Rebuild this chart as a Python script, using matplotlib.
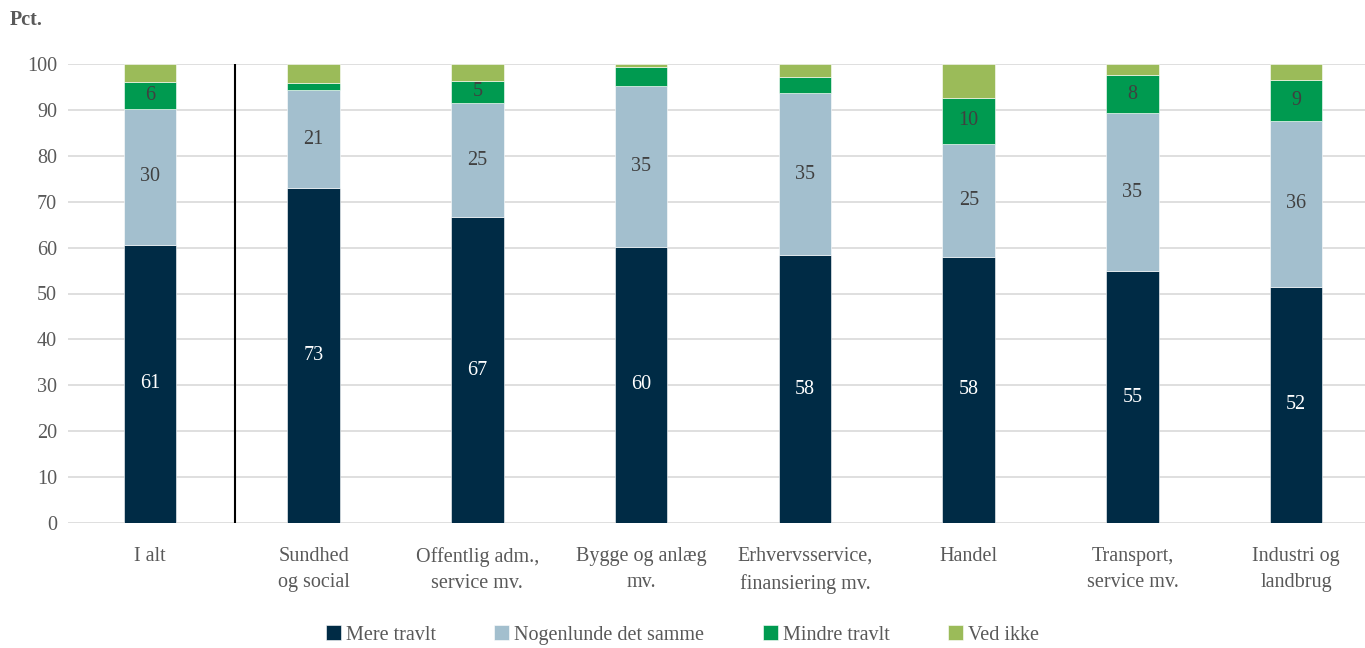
import numpy as np
import matplotlib.pyplot as plt

plt.rcParams['font.family'] = ['Liberation Serif', 'DejaVu Serif']

categories = ['I alt', 'Sundhed\nog social', 'Offentlig adm.,\nservice mv.', 'Bygge og anlæg\nmv.',
              'Erhvervsservice,\nfinansiering mv.', 'Handel', 'Transport,\nservice mv.', 'Industri og\nlandbrug']
series = ['Mere travlt', 'Nogenlunde det samme', 'Mindre travlt', 'Ved ikke']
mere = [60.6, 73.0, 66.6, 60.2, 58.3, 58.0, 54.8, 51.5]
nogen = [29.7, 21.3, 24.8, 34.9, 35.4, 24.6, 34.6, 36.1]
mindre = [5.8, 1.6, 5.0, 4.3, 3.5, 10.1, 8.1, 9.0]
vedikke = [3.9, 4.1, 3.6, 0.6, 2.8, 7.3, 2.5, 3.4]

colors = ['#002B45', '#A3BFCE', '#009A50', '#9BBB59']
text_colors = ['white', '#404040', '#404040', '#404040']

fig = plt.figure(figsize=(13.65, 6.48), dpi=100)
ax = fig.add_axes([68 / 1365, 1 - 523 / 648, 1 - 68 / 1365, (523 - 64) / 648])

x = np.arange(len(categories))
bottom = np.zeros(len(categories))
for vals, name, col, tc in zip([mere, nogen, mindre, vedikke], series, colors, text_colors):
    vals = np.array(vals)
    ax.bar(x, vals, width=0.32, bottom=bottom, color=col, label=name,
           edgecolor='white', linewidth=0.4, zorder=3)
    if name != 'Ved ikke':
        for xi, b, v in zip(x, bottom, vals):
            if v >= 4.8:
                ax.text(xi, b + v / 2, f'{v:.0f}', ha='center', va='center',
                        fontsize=14.5, color=tc, zorder=4)
    bottom += vals

ax.axvline(0.52, color='black', linewidth=1.5, zorder=4)

ax.set_ylim(0, 100)
ax.set_xlim(-0.5, 7.42)
ax.set_yticks(range(0, 101, 10))
ax.set_xticks(x)
ax.set_xticklabels(categories, fontsize=14.5, color='#595959', linespacing=1.55)
ax.tick_params(axis='y', labelsize=14.5, labelcolor='#595959', length=0, pad=8)
ax.tick_params(axis='x', length=0, pad=17)
ax.grid(axis='y', color='#D9D9D9', linewidth=1.2, zorder=0)
for s in ax.spines.values():
    s.set_visible(False)

fig.text(10 / 1365, 1 - 20 / 648, 'Pct.', fontsize=14.5, fontweight='bold', color='#595959',
         ha='left', va='center')

handles, labels = ax.get_legend_handles_labels()
fig.legend(handles, labels, loc='center', bbox_to_anchor=(0.5, 1 - 635 / 648), ncol=4,
           frameon=False, fontsize=14.5, labelcolor='#595959', handlelength=0.75,
           handleheight=0.75, handletextpad=0.25, columnspacing=2.9)

fig.savefig('out.png', dpi=100)
